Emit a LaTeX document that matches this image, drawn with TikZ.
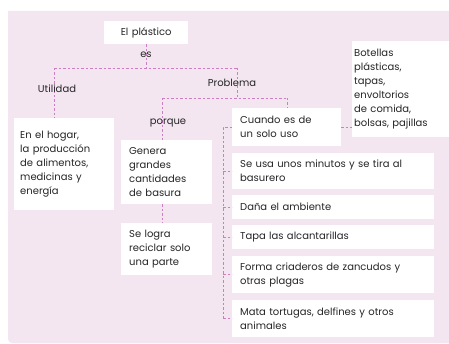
\documentclass[tikz,border=0pt]{standalone}
\usepackage{fontspec}
\setmainfont{Poppins}
\definecolor{bgpink}{HTML}{F3E6F1}
\definecolor{lnpink}{HTML}{CC7FC0}
\definecolor{txt}{HTML}{262626}
\begin{document}
\begin{tikzpicture}[x=1pt,y=-1pt,
  font=\fontsize{10}{14}\selectfont, text=txt,
  bx/.style={fill=white, anchor=north west, align=left, inner xsep=8pt, inner ysep=0pt},
  lbl/.style={inner sep=1pt},
  conn/.style={draw=lnpink, dash pattern=on 2.5pt off 2pt, line width=0.6pt}]
\useasboundingbox (0,0) rectangle (449,344);
\fill[bgpink] (8,11) -- (449,11) -- (449,343) [rounded corners=4pt] -- (8,343) [sharp corners] -- cycle;

% boxes
\node[bx, align=center, minimum width=84pt, minimum height=23pt, text width=68pt] (title) at (104,21) {El plástico};
\node[bx, minimum width=100pt, minimum height=92pt, text width=88pt, inner xsep=6pt] (hogar) at (14,118)
  {En el hogar,\\la producción\\de alimentos,\\medicinas y\\energía};
\node[bx, minimum width=91pt, minimum height=64pt, text width=75pt] (genera) at (121,140)
  {Genera\\grandes\\cantidades\\de basura};
\node[bx, minimum width=91pt, minimum height=52pt, text width=75pt] (selogra) at (121,223)
  {Se logra\\reciclar solo\\una parte};
\node[bx, minimum width=109pt, minimum height=38pt, text width=93pt] (cuando) at (232,108)
  {Cuando es de\\un solo uso};
\node[bx, minimum width=97pt, minimum height=96pt, text width=93pt, inner xsep=2pt] (botellas) at (352,41)
  {Botellas\\plásticas,\\tapas,\\envoltorios\\de comida,\\bolsas, pajillas};
\node[bx, minimum width=202pt, minimum height=36pt, text width=186pt] (seusa) at (232,153)
  {Se usa unos minutos y se tira al\\basurero};
\node[bx, minimum width=202pt, minimum height=24pt, text width=186pt] (dana) at (232,195)
  {Daña el ambiente};
\node[bx, minimum width=202pt, minimum height=24pt, text width=186pt] (tapa) at (232,225)
  {Tapa las alcantarillas};
\node[bx, minimum width=202pt, minimum height=37pt, text width=186pt] (forma) at (232,256)
  {Forma criaderos de zancudos y\\otras plagas};
\node[bx, minimum width=202pt, minimum height=37pt, text width=186pt] (mata) at (232,300)
  {Mata tortugas, delfines y otros\\animales};

% junction coordinates
\coordinate (jl) at (54,68);
\coordinate (jr) at (237,68);
\coordinate (pl) at (162,98);
\coordinate (pr) at (287,98);
\coordinate (sp) at (223,125);

% connectors
\draw[conn] (title.south) -- (title.south |- jl);
\draw[conn] (jl) -- (jr);
\draw[conn] (jl) -- (jl |- hogar.north);
\draw[conn] (jr) -- (jr |- pl);
\draw[conn] (pl) -- (pr);
\draw[conn] (pl) -- (pl |- genera.north);
\draw[conn] (pr) -- (pr |- cuando.north);
\draw[conn] (genera.south -| pl) -- (pl |- selogra.north);
\draw[conn] (cuando.east) -- (cuando.east -| botellas.west);
\draw[conn] (cuando.west) -- (cuando.west -| sp) -- (sp |- mata.west);
\foreach \n in {seusa,dana,tapa,forma,mata}
  \draw[conn] (\n.west -| sp) -- (\n.west);

% labels
\node[lbl] (es) at (146,55) {es};
\node[lbl] (util) at (57,89) {Utilidad};
\node[lbl] (prob) at (232,83) {Problema};
\node[lbl] (porq) at (168,123) {porque};
\end{tikzpicture}
\end{document}
